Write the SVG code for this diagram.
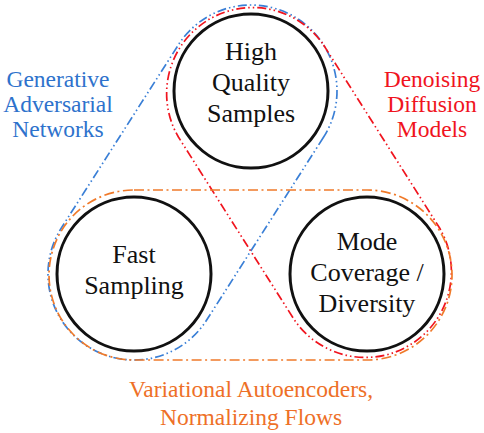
<svg xmlns="http://www.w3.org/2000/svg" width="484" height="433" viewBox="0 0 484 433">
<defs>
<circle id="ring" r="77" fill="none" stroke="#111" stroke-width="3"/>
</defs>
<rect width="484" height="433" fill="#fff"/>
<g id="connectors" fill="none" stroke-width="1.7">
<path stroke="#3a7fd6" stroke-dasharray="9 3 1.5 3 1.5 3" d="M323.5 137.3 L206.5 320.3 A86 86 0 0 1 61.5 227.7 L178.5 44.7 A86 86 0 0 1 323.5 137.3 Z"/>
<path stroke="#f0141e" stroke-dasharray="9 3 1.5 3 1.5 3" d="M323.6 45 L439.6 228 A86 86 0 0 1 294.4 320 L178.4 137 A86 86 0 0 1 323.6 45 Z"/>
<path stroke="#f07a2a" stroke-dasharray="10 3.5 2 3.5" d="M134 190 L367 190 A85 85 0 0 1 367 360 L134 360 A85 85 0 0 1 134 190 Z"/>
</g>
<g id="node-high-quality">
<use href="#ring" x="251" y="91"/>
<text x="251" y="60" font-size="26" font-family="Times New Roman" text-anchor="middle" fill="#111" style="font-family:'Liberation Serif','Times New Roman',serif">High</text>
<text x="251" y="91" font-size="26" font-family="Times New Roman" text-anchor="middle" fill="#111" style="font-family:'Liberation Serif','Times New Roman',serif">Quality</text>
<text x="251" y="122" font-size="26" font-family="Times New Roman" text-anchor="middle" fill="#111" style="font-family:'Liberation Serif','Times New Roman',serif">Samples</text>
</g>
<g id="node-fast-sampling">
<use href="#ring" x="134" y="274"/>
<text x="134" y="263" font-size="26" font-family="Times New Roman" text-anchor="middle" fill="#111" style="font-family:'Liberation Serif','Times New Roman',serif">Fast</text>
<text x="134" y="294" font-size="26" font-family="Times New Roman" text-anchor="middle" fill="#111" style="font-family:'Liberation Serif','Times New Roman',serif">Sampling</text>
</g>
<g id="node-mode-coverage">
<use href="#ring" x="367" y="274"/>
<text x="367" y="250" font-size="26" font-family="Times New Roman" text-anchor="middle" fill="#111" style="font-family:'Liberation Serif','Times New Roman',serif">Mode</text>
<text x="367" y="281" font-size="26" font-family="Times New Roman" text-anchor="middle" fill="#111" style="font-family:'Liberation Serif','Times New Roman',serif">Coverage /</text>
<text x="367" y="312" font-size="26" font-family="Times New Roman" text-anchor="middle" fill="#111" style="font-family:'Liberation Serif','Times New Roman',serif">Diversity</text>
</g>
<g id="label-gan">
<text x="58" y="87" font-size="23.5" font-family="Times New Roman" text-anchor="middle" fill="#2e72cc" style="font-family:'Liberation Serif','Times New Roman',serif">Generative</text>
<text x="58" y="112" font-size="23.5" font-family="Times New Roman" text-anchor="middle" fill="#2e72cc" style="font-family:'Liberation Serif','Times New Roman',serif">Adversarial</text>
<text x="58" y="137" font-size="23.5" font-family="Times New Roman" text-anchor="middle" fill="#2e72cc" style="font-family:'Liberation Serif','Times New Roman',serif">Networks</text>
</g>
<g id="label-ddm">
<text x="432" y="87" font-size="23.5" font-family="Times New Roman" text-anchor="middle" fill="#f0141e" style="font-family:'Liberation Serif','Times New Roman',serif">Denoising</text>
<text x="432" y="112" font-size="23.5" font-family="Times New Roman" text-anchor="middle" fill="#f0141e" style="font-family:'Liberation Serif','Times New Roman',serif">Diffusion</text>
<text x="432" y="137" font-size="23.5" font-family="Times New Roman" text-anchor="middle" fill="#f0141e" style="font-family:'Liberation Serif','Times New Roman',serif">Models</text>
</g>
<g id="label-vae">
<text x="251" y="397" font-size="23.5" font-family="Times New Roman" text-anchor="middle" fill="#ee7027" style="font-family:'Liberation Serif','Times New Roman',serif">Variational Autoencoders,</text>
<text x="251" y="425" font-size="23.5" font-family="Times New Roman" text-anchor="middle" fill="#ee7027" style="font-family:'Liberation Serif','Times New Roman',serif">Normalizing Flows</text>
</g>
</svg>
